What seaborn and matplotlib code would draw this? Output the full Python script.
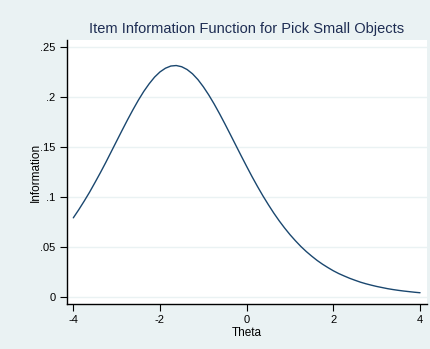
import matplotlib
matplotlib.use("Agg")
import matplotlib.pyplot as plt
import seaborn as sns
import pandas as pd

theta = [-4.0, -3.875, -3.75, -3.625, -3.5, -3.375, -3.25, -3.125, -3.0, -2.875,
         -2.75, -2.625, -2.5, -2.375, -2.25, -2.125, -2.0, -1.875, -1.75, -1.625,
         -1.5, -1.375, -1.25, -1.125, -1.0, -0.875, -0.75, -0.625, -0.5, -0.375,
         -0.25, -0.125, 0.0, 0.125, 0.25, 0.375, 0.5, 0.625, 0.75, 0.875,
         1.0, 1.125, 1.25, 1.375, 1.5, 1.625, 1.75, 1.875, 2.0, 2.125,
         2.25, 2.375, 2.5, 2.625, 2.75, 2.875, 3.0, 3.125, 3.25, 3.375,
         3.5, 3.625, 3.75, 3.875, 4.0]
information = [0.0791, 0.0872, 0.0958, 0.1048, 0.1145, 0.1244, 0.1347, 0.1454, 0.1561, 0.1668,
               0.1773, 0.1874, 0.1970, 0.2058, 0.2135, 0.2202, 0.2254, 0.2291, 0.2313, 0.2318,
               0.2306, 0.2278, 0.2235, 0.2177, 0.2105, 0.2023, 0.1932, 0.1834, 0.1731, 0.1625,
               0.1518, 0.1411, 0.1306, 0.1203, 0.1105, 0.1011, 0.0923, 0.0839, 0.0761, 0.0689,
               0.0622, 0.0561, 0.0504, 0.0453, 0.0407, 0.0364, 0.0326, 0.0292, 0.0260, 0.0232,
               0.0208, 0.0185, 0.0165, 0.0146, 0.0130, 0.0116, 0.0103, 0.0092, 0.0081, 0.0072,
               0.0064, 0.0057, 0.0051, 0.0045, 0.0040]
x_ticks = [-4, -2, 0, 2, 4]
y_ticks = [0, 0.05, 0.1, 0.15, 0.2, 0.25]
y_tick_labels = ["0", ".05", ".1", ".15", ".2", ".25"]
title = "Item Information Function for Pick Small Objects"

df = pd.DataFrame({"Theta": theta, "Information": information})

sns.set_style("white")
plt.rcParams["font.family"] = ["Liberation Sans", "DejaVu Sans"]

bg = "#eaf2f3"
fig = plt.figure(figsize=(4.31, 3.49), dpi=100, facecolor=bg)
ax = fig.add_axes([0.1547, 0.1289, 0.8360, 0.7565])
ax.set_facecolor("white")

sns.lineplot(data=df, x="Theta", y="Information", ax=ax, color="#1a476f", linewidth=1.0)

ax.set_xlim(-4.153, 4.16)
ax.set_ylim(-0.0073, 0.2574)
ax.set_xticks(x_ticks)
ax.set_xticklabels([str(t) for t in x_ticks])
ax.set_yticks(y_ticks)
ax.set_yticklabels(y_tick_labels)
ax.yaxis.grid(True, color=bg, linewidth=1.0)
ax.xaxis.grid(False)
ax.set_axisbelow(True)

for s in ["top", "right"]:
    ax.spines[s].set_visible(False)
for s in ["left", "bottom"]:
    ax.spines[s].set_color("black")
    ax.spines[s].set_linewidth(1.0)

ax.tick_params(axis="both", which="major", direction="out", length=5, width=0.8,
               color="black", labelsize=8, labelcolor="black", pad=3,
               left=True, bottom=True)
ax.set_xlabel("Theta", fontsize=8.5, labelpad=1, color="black")
ax.set_ylabel("Information", fontsize=8.5, labelpad=-1, color="black")
ax.set_title(title, fontsize=10.5, color="#1e2d53", pad=5)

fig.savefig("out.png", dpi=100, facecolor=bg)
